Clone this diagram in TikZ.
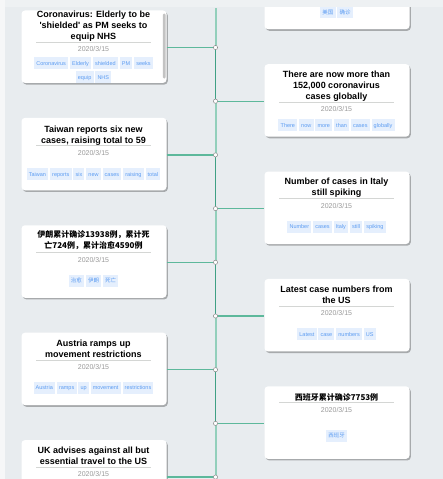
\documentclass[tikz,border=0pt]{standalone}
\usepackage{fontspec}
\setmainfont{Liberation Sans}
\newfontfamily\cjk{Noto Sans CJK SC}
\usetikzlibrary{shadows}
\definecolor{bgc}{HTML}{E8ECEF}
\definecolor{stripc}{HTML}{F6F7F8}
\definecolor{bandc}{HTML}{EEF1F3}
\definecolor{tlight}{HTML}{92CFBB}
\definecolor{tdark}{HTML}{3FA084}
\definecolor{connc}{HTML}{5DB89B}
\definecolor{tagbg}{HTML}{E5EFFD}
\definecolor{tagfg}{HTML}{5C9CF2}
\definecolor{datec}{HTML}{999999}
\definecolor{ulc}{HTML}{D4D6D4}
\definecolor{scrollc}{HTML}{C3C3C3}
\newcommand\tg[1]{{\setlength{\fboxsep}{0pt}\colorbox{tagbg}{\rule[-3.8pt]{0pt}{12pt}\hspace{2.2pt}#1\hspace{2.2pt}}}}
\newcommand\tgap{\hspace{1.8pt}}
\newcommand\cjkt{\cjk\fontsize{8}{11}\selectfont}
\newcommand\newscard[9]{%
  \node[card] (#1) at (#2,#3+36.25) {};
  \node[ttl] (#1t) at (#2-0.5,#3+#5) {#4};
  \draw[uline] (#2-58,#3+#6) -- (#2+57,#3+#6);
  \node[dt] (#1d) at (#2-0.5,#3+#7) {2020/3/15};
  \node[tagrow] (#1g) at (#2-0.5,#3+#8) {#9};
}
\tikzset{
  card/.style={fill=white, rounded corners=3.5pt, minimum width=145pt, minimum height=72.5pt, inner sep=0pt,
    drop shadow={shadow xshift=1.3pt, shadow yshift=-1.6pt, fill=black, opacity=0.28}},
  ttl/.style={font=\bfseries\fontsize{9}{11}\selectfont, align=center, inner sep=0pt, text=black},
  dt/.style={font=\fontsize{7}{8}\selectfont, text=datec, inner sep=0pt},
  tagrow/.style={font=\fontsize{5.5}{7}\selectfont, text=tagfg, inner sep=0pt},
  uline/.style={draw=ulc, line width=0.8pt},
  tlseg/.style={draw=tlight, line width=2pt},
  tdseg/.style={draw=tdark, line width=1.3pt},
  conn/.style={draw=connc, line width=1.4pt},
  dot/.style={circle, fill=white, draw=black!45, line width=0.5pt, minimum size=4.2pt, inner sep=0pt},
}
\begin{document}
\begin{tikzpicture}[x=1pt, y=-1pt]
\useasboundingbox (0,0) rectangle (443,479);
\fill[stripc] (0,0) rectangle (443,479);
\fill[bgc] (5,0) rectangle (443,479);
\begin{scope}
\clip (5,0) rectangle (443,479);
% timeline coordinates
\coordinate (tltop) at (215.5,8);
\coordinate (tlbot) at (215.5,482);
\foreach \k in {0,...,8} {\coordinate (p\k) at (215.5,47.5+53.7*\k);}
\draw[tlseg] (tltop) -- (p0);
\draw[tdseg] (p0) -- (p1);
\draw[tlseg] (p1) -- (p2);
\draw[tdseg] (p2) -- (p3);
\draw[tlseg] (p3) -- (p4);
\draw[tdseg] (p4) -- (p5);
\draw[tlseg] (p5) -- (p6);
\draw[tdseg] (p6) -- (p7);
\draw[tlseg] (p7) -- (p8);
\draw[tdseg] (p8) -- (tlbot);
% top right (cut) card
\node[card] (R0) at (337,-7.05) {};
\node[tagrow] (R0g) at (336.5,12.3) {\tg{\cjk 美国}\tgap\tg{\cjk 确诊}};
% left cards
\newscard{L0}{94}{10.45}{Coronavirus: Elderly to be\\\textquotesingle shielded\textquotesingle{} as PM seeks to\\equip NHS}{16}{32}{38.6}{52.6}{\tg{Coronavirus}\tgap\tg{Elderly}\tgap\tg{shielded}\tgap\tg{PM}\tgap\tg{seeks}}
\node[tagrow] (L0g2) at (93.5,10.45+67) {\tg{equip}\tgap\tg{NHS}};
\fill[scrollc, rounded corners=1.3pt] (162.8,13.5) rectangle (165.6,78.5);
\newscard{L2}{94}{117.85}{Taiwan reports six new\\cases, raising total to 59}{17.5}{28}{35.4}{56}{\tg{Taiwan}\tgap\tg{reports}\tgap\tg{six}\tgap\tg{new}\tgap\tg{cases}\tgap\tg{raising}\tgap\tg{total}}
\newscard{L4}{94}{225.25}{\cjkt 伊朗累计确诊13938例，累计死\\\cjkt 亡724例，累计治愈4590例}{15.3}{27.3}{34.3}{55.3}{\tg{\cjk 治愈}\tgap\tg{\cjk 伊朗}\tgap\tg{\cjk 死亡}}
\newscard{L6}{94}{332.65}{Austria ramps up\\movement restrictions}{16.2}{27.3}{34.2}{55}{\tg{Austria}\tgap\tg{ramps}\tgap\tg{up}\tgap\tg{movement}\tgap\tg{restrictions}}
\newscard{L8}{94}{440.05}{UK advises against all but\\essential travel to the US}{16}{27}{33.6}{55}{}
% right cards
\newscard{R1}{337}{64.15}{There are now more than\\152,000 coronavirus\\cases globally}{22.4}{38.4}{45}{60.7}{\tg{There}\tgap\tg{now}\tgap\tg{more}\tgap\tg{than}\tgap\tg{cases}\tgap\tg{globally}}
\newscard{R3}{337}{171.55}{Number of cases in Italy\\still spiking}{16.2}{27.3}{34.2}{55}{\tg{Number}\tgap\tg{cases}\tgap\tg{Italy}\tgap\tg{still}\tgap\tg{spiking}}
\newscard{R5}{337}{278.95}{Latest case numbers from\\the US}{16.2}{27.3}{34.2}{55}{\tg{Latest}\tgap\tg{case}\tgap\tg{numbers}\tgap\tg{US}}
\newscard{R7}{337}{386.35}{\cjkt 西班牙累计确诊7753例}{11}{16}{23.6}{49.3}{\tg{\cjk 西班牙}}
% connectors
\draw[conn] (p0 -| L0.east) -- (p0);
\draw[conn] (p2 -| L2.east) -- (p2);
\draw[conn] (p4 -| L4.east) -- (p4);
\draw[conn] (p6 -| L6.east) -- (p6);
\draw[conn] (p8 -| L8.east) -- (p8);
\draw[conn] (p1) -- (p1 -| R1.west);
\draw[conn] (p3) -- (p3 -| R3.west);
\draw[conn] (p5) -- (p5 -| R5.west);
\draw[conn] (p7) -- (p7 -| R7.west);
\foreach \k in {0,...,8} {\node[dot] (d\k) at (p\k) {};}
\end{scope}
\fill[bandc] (5,0) rectangle (443,7);
\end{tikzpicture}
\end{document}
